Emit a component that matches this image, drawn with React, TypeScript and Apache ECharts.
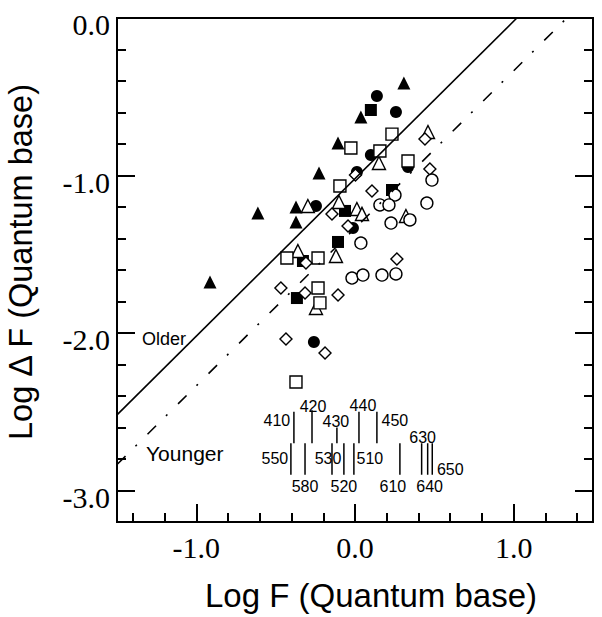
import React, { useEffect, useRef } from 'react';
import * as echarts from 'echarts';

// ---- data (log F, log ΔF) ----
const filledTriangles = [
  [-0.914, -1.676], [-0.612, -1.238], [-0.372, -1.2], [-0.372, -1.295],
  [-0.227, -0.984], [-0.107, -0.794], [0.037, -0.629], [0.308, -0.413],
];
const filledCircles = [
  [0.138, -0.495], [0.258, -0.597], [0.1, -0.87], [0.012, -0.978],
  [-0.246, -1.194], [-0.013, -1.333], [-0.259, -2.057], [0.334, -0.946],
];
const filledSquares = [
  [0.1, -0.584], [0.233, -1.092], [-0.063, -1.225], [-0.107, -1.422],
  [-0.328, -1.543], [-0.366, -1.778],
];
const openTriangles = [
  [0.46, -0.724], [0.151, -0.921], [-0.101, -1.168], [0.012, -1.213],
  [0.044, -1.244], [-0.297, -1.194], [0.321, -1.257], [-0.36, -1.479],
  [-0.12, -1.511], [-0.246, -1.841],
];
const openSquares = [
  [0.233, -0.737], [-0.026, -0.825], [0.157, -0.844], [0.334, -0.908],
  [-0.095, -1.067], [-0.429, -1.524], [-0.233, -1.524], [-0.233, -1.714],
  [-0.221, -1.809], [-0.372, -2.311],
];
const openDiamonds = [
  [0.441, -0.768], [0.472, -0.959], [0.003, -0.997], [0.107, -1.098],
  [-0.145, -1.244], [-0.044, -1.321], [-0.309, -1.556], [0.264, -1.53],
  [-0.467, -1.714], [-0.315, -1.746], [-0.107, -1.759], [-0.435, -2.038],
  [-0.189, -2.127],
];
const openCircles = [
  [0.485, -1.029], [0.453, -1.175], [0.252, -1.124], [0.157, -1.187],
  [0.214, -1.187], [0.227, -1.302], [0.346, -1.282], [0.037, -1.429],
  [-0.019, -1.651], [0.05, -1.632], [0.17, -1.632], [0.258, -1.625],
];

// boundary lines
const olderLine = [[-1.5, -2.52], [1.02, 0]];
const youngerLine = [[-1.5, -2.835], [1.335, 0]];

// wavelength scale (nm) and its log F positions
const wavelengths = [410, 420, 430, 440, 450, 630, 550, 580, 530, 520, 510, 610, 640, 650];
const wlLogF = [-0.385, -0.271, -0.114, 0.025, 0.138, 0.42, -0.404, -0.315, -0.145, -0.07, -0.007, 0.283, 0.458, 0.487];
const wlTop = [-2.5, -2.49, -2.6, -2.5, -2.5, -2.7, -2.7, -2.7, -2.7, -2.7, -2.7, -2.7, -2.7, -2.7];
const wlBottom = [-2.7, -2.7, -2.7, -2.7, -2.7, -2.9, -2.9, -2.9, -2.9, -2.9, -2.9, -2.9, -2.9, -2.9];
// label offsets in pixels from the top of each tick (style)
const wlLabelOffset = [
  [-17, 9], [1, -4], [-1, -6.5], [4, -6], [18, 9], [1, -6],
  [-16, 15], [0, 43], [-4, 15], [0, 43], [16, 15], [-7, 43], [2, 43], [18, 26],
];

// region annotations
const regionNames = ['Older', 'Younger'];
const regionPos = [[-1.342, -2.038], [-1.317, -2.762]];
const regionFontSize = [18, 21];

// axes ticks
const xMajor = [-1, 0, 1];
const xMinor = [-1.4, -1.2, -1.0, -0.8, -0.6, -0.4, -0.2, 0, 0.2, 0.4, 0.6, 0.8, 1.0, 1.2, 1.4];
const yMajor = [-3, -2, -1, 0];
const yMinor = [-3.0, -2.8, -2.6, -2.4, -2.2, -2.0, -1.8, -1.6, -1.4, -1.2, -1.0, -0.8, -0.6, -0.4, -0.2];

const SANS = '"Liberation Sans", Arial, Helvetica, sans-serif';
const SERIF = '"Liberation Serif", "Times New Roman", serif';

export default function App() {
  const ref = useRef<HTMLDivElement>(null);

  useEffect(() => {
    if (!ref.current) return;
    const chart = echarts.init(ref.current, null, { renderer: 'svg' });

    const tickStyle = { color: '#000', width: 2 };
    const labelFmt = (v: number) => v.toFixed(1);

    const filled = (data: number[][], symbol: string, size: number) => ({
      type: 'scatter',
      data,
      symbol,
      symbolSize: size,
      itemStyle: { color: '#000', opacity: 1 },
      silent: true,
    });
    const open = (data: number[][], symbol: string, size: number) => ({
      type: 'scatter',
      data,
      symbol,
      symbolSize: size,
      itemStyle: { color: '#fff', borderColor: '#000', borderWidth: 1.4, opacity: 1 },
      silent: true,
    });

    const wlData = wavelengths.map((w, i) => [wlLogF[i], wlTop[i], wlBottom[i], w]);

    chart.setOption({
      animation: false,
      backgroundColor: '#fff',
      grid: {
        left: 117,
        right: 9,
        top: 18,
        bottom: 95,
        containLabel: false,
        outerBoundsMode: 'none',
        show: true,
        borderColor: '#000',
        borderWidth: 2,
        backgroundColor: 'transparent',
      },
      xAxis: [
        {
          type: 'value',
          min: -1.5,
          max: 1.5,
          position: 'bottom',
          axisLine: { show: true, onZero: false, lineStyle: { color: '#000', width: 2 } },
          axisTick: { show: true, inside: true, length: 18, customValues: xMajor, lineStyle: tickStyle },
          axisLabel: {
            customValues: xMajor,
            formatter: labelFmt,
            color: '#000',
            fontFamily: SERIF,
            fontSize: 30,
            margin: 10,
          },
          splitLine: { show: false },
          name: 'Log F (Quantum base)',
          nameLocation: 'middle',
          nameGap: 57,
          nameTextStyle: { color: '#000', fontFamily: SANS, fontSize: 33, padding: [0, 0, 0, 32] },
        },
        {
          type: 'value',
          min: -1.5,
          max: 1.5,
          position: 'bottom',
          axisLine: { show: false, onZero: false },
          axisTick: { show: true, inside: true, length: 9, customValues: xMinor, lineStyle: tickStyle },
          axisLabel: { show: false },
          splitLine: { show: false },
        },
      ],
      yAxis: [
        {
          type: 'value',
          min: -3.2,
          max: 0,
          position: 'left',
          axisLine: { show: true, onZero: false, lineStyle: { color: '#000', width: 2 } },
          axisTick: { show: true, inside: true, length: 18, customValues: yMajor, lineStyle: tickStyle },
          axisLabel: {
            customValues: yMajor,
            formatter: labelFmt,
            color: '#000',
            fontFamily: SERIF,
            fontSize: 30,
            margin: 7,
            verticalAlign: 'top',
            lineHeight: 13,
          },
          splitLine: { show: false },
          name: 'Log Δ F (Quantum base)',
          nameLocation: 'middle',
          nameGap: 80,
          nameTextStyle: { color: '#000', fontFamily: SANS, fontSize: 32.5, padding: [0, 0, 0, 16] },
        },
        {
          type: 'value',
          min: -3.2,
          max: 0,
          position: 'left',
          axisLine: { show: false, onZero: false },
          axisTick: { show: true, inside: true, length: 9, customValues: yMinor, lineStyle: tickStyle },
          axisLabel: { show: false },
          splitLine: { show: false },
        },
        {
          type: 'value',
          min: -3.2,
          max: 0,
          position: 'right',
          axisLine: { show: false, onZero: false },
          axisTick: { show: true, inside: true, length: 18, customValues: yMajor, lineStyle: tickStyle },
          axisLabel: { show: false },
          splitLine: { show: false },
        },
        {
          type: 'value',
          min: -3.2,
          max: 0,
          position: 'right',
          axisLine: { show: false, onZero: false },
          axisTick: { show: true, inside: true, length: 9, customValues: yMinor, lineStyle: tickStyle },
          axisLabel: { show: false },
          splitLine: { show: false },
        },
      ],
      series: [
        {
          type: 'line',
          data: olderLine,
          symbol: 'none',
          lineStyle: { color: '#000', width: 1.6 },
          silent: true,
        },
        {
          type: 'line',
          data: youngerLine,
          symbol: 'none',
          lineStyle: { color: '#000', width: 1.6, type: [12, 14, 2, 15] },
          silent: true,
        },
        filled(filledTriangles, 'triangle', 13),
        filled(filledCircles, 'circle', 12),
        filled(filledSquares, 'rect', 12),
        open(openTriangles, 'triangle', 13),
        open(openSquares, 'rect', 12),
        open(openDiamonds, 'diamond', 12),
        open(openCircles, 'circle', 12),
        {
          type: 'custom',
          data: wlData,
          silent: true,
          renderItem: (params: any, api: any) => {
            const i = params.dataIndex;
            const top = api.coord([api.value(0), api.value(1)]);
            const bot = api.coord([api.value(0), api.value(2)]);
            const off = wlLabelOffset[i];
            return {
              type: 'group',
              children: [
                {
                  type: 'line',
                  shape: { x1: top[0], y1: top[1], x2: bot[0], y2: bot[1] },
                  style: { stroke: '#000', lineWidth: 1.5 },
                },
                {
                  type: 'text',
                  x: top[0] + off[0],
                  y: top[1] + off[1],
                  style: {
                    text: String(wavelengths[i]),
                    fill: '#000',
                    font: '16px ' + SANS,
                    align: 'center',
                    verticalAlign: 'middle',
                  },
                },
              ],
            };
          },
        },
        {
          type: 'custom',
          data: regionPos,
          silent: true,
          renderItem: (params: any, api: any) => {
            const i = params.dataIndex;
            const p = api.coord([api.value(0), api.value(1)]);
            return {
              type: 'text',
              x: p[0],
              y: p[1],
              style: {
                text: regionNames[i],
                fill: '#000',
                font: regionFontSize[i] + 'px ' + SANS,
                align: 'left',
                verticalAlign: 'middle',
              },
            };
          },
        },
      ],
    });

    return () => chart.dispose();
  }, []);

  return (
    <div
      ref={ref}
      style={{ position: 'fixed', left: 0, top: 0, width: 602, height: 617, background: '#fff' }}
    />
  );
}
